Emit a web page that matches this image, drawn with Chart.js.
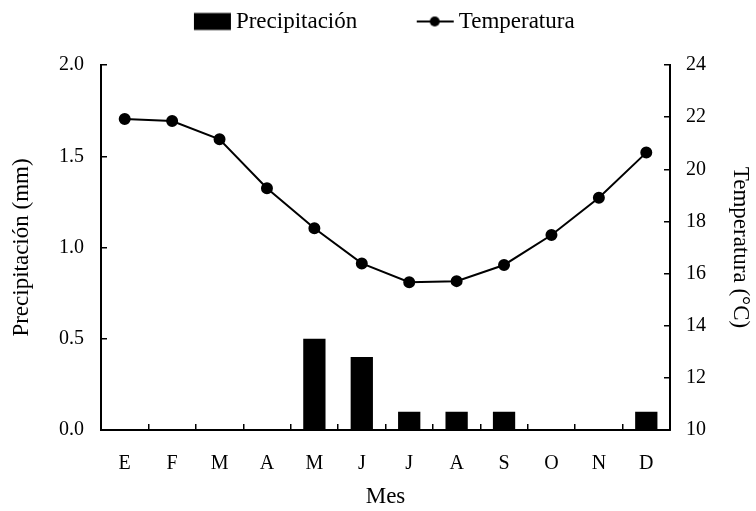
<!DOCTYPE html>
<html>
<head>
<meta charset="utf-8">
<script src="https://cdn.jsdelivr.net/npm/chart.js@4.4.0/dist/chart.umd.min.js"></script>
<style>
    html, body { margin: 0; padding: 0; background: #fff; }
    #wrap { width: 756px; height: 511px; }
</style>
</head>
<body>
<div id="wrap"><canvas id="climate-chart"></canvas></div>
<script>
// Monthly data
const months = ['E', 'F', 'M', 'A', 'M', 'J', 'J', 'A', 'S', 'O', 'N', 'D'];
const precipitation = [0, 0, 0, 0, 0.5, 0.4, 0.1, 0.1, 0.1, 0, 0, 0.1];
const temperature = [21.93, 21.85, 21.15, 19.27, 17.74, 16.39, 15.67, 15.71, 16.33, 17.48, 18.91, 20.64];

// Axis ranges: min, max, step
const precipRange = [0, 2.0, 0.5];
const tempRange = [10, 24, 2];

const serif = "'Liberation Serif', 'Times New Roman', serif";

// Small images used as legend symbols
function legendIcon(kind) {
    const c = document.createElement('canvas');
    c.width = 60;
    c.height = 20;
    const ctx = c.getContext('2d');
    ctx.fillStyle = '#000';
    ctx.strokeStyle = '#000';
    if (kind === 'bar') {
        ctx.fillRect(21, 1.5, 37, 17);
    } else {
        ctx.lineWidth = 2;
        ctx.beginPath();
        ctx.moveTo(21, 10);
        ctx.lineTo(58, 10);
        ctx.stroke();
        ctx.beginPath();
        ctx.arc(39, 10, 5, 0, Math.PI * 2);
        ctx.fill();
    }
    return c;
}
const icons = [legendIcon('bar'), legendIcon('line')];

// Give the legend a fixed height so the plot starts where it should
const legendHeight = {
    id: 'legendHeight',
    beforeInit(chart) {
        if (!chart.legend) return;
        const fit = chart.legend.fit;
        chart.legend.fit = function () {
            fit.bind(chart.legend)();
            this.height = 102;
        };
    }
};

const tickGrid = {
    display: true,
    drawOnChartArea: false,
    drawTicks: true,
    tickLength: -6,
    color: '#000',
    lineWidth: 1.5
};

new Chart(document.getElementById('climate-chart'), {
    type: 'bar',
    data: {
        labels: months,
        datasets: [{
            label: 'Precipitación',
            data: precipitation,
            backgroundColor: '#000',
            borderWidth: 0,
            barPercentage: 0.47,
            categoryPercentage: 1,
            yAxisID: 'y'
        }, {
            type: 'line',
            label: 'Temperatura',
            data: temperature,
            borderColor: '#000',
            borderWidth: 2,
            pointRadius: 5,
            pointBackgroundColor: '#000',
            pointBorderColor: '#000',
            tension: 0,
            yAxisID: 'y1'
        }]
    },
    options: {
        responsive: true,
        maintainAspectRatio: false,
        animation: false,
        layout: { padding: { top: -37 } },
        plugins: {
            tooltip: { enabled: false },
            legend: {
                position: 'top',
                labels: {
                    usePointStyle: true,
                    pointStyleWidth: 43,
                    padding: 47,
                    color: '#000',
                    font: { family: serif, size: 23 },
                    generateLabels: chart => chart.data.datasets.map((ds, i) => ({
                        text: ds.label,
                        pointStyle: icons[i],
                        fillStyle: '#000',
                        strokeStyle: '#000',
                        lineWidth: 0,
                        fontColor: '#000',
                        hidden: false,
                        datasetIndex: i
                    }))
                }
            }
        },
        scales: {
            x: {
                offset: true,
                grid: { ...tickGrid, offset: true },
                border: { display: true, color: '#000', width: 2 },
                ticks: { color: '#000', font: { family: serif, size: 20 }, padding: 28 },
                title: { display: true, text: 'Mes', color: '#000', font: { family: serif, size: 23 }, padding: { top: 0, bottom: 0 } },
                afterFit(scale) { scale.height = 81; }
            },
            y: {
                position: 'left',
                min: precipRange[0],
                max: precipRange[1],
                grid: tickGrid,
                border: { display: true, color: '#000', width: 2 },
                ticks: {
                    stepSize: precipRange[2],
                    color: '#000',
                    font: { family: serif, size: 20 },
                    padding: 23,
                    callback: v => v.toFixed(1)
                },
                title: { display: true, text: 'Precipitación (mm)', color: '#000', font: { family: serif, size: 23 }, padding: { top: 8, bottom: 0 } },
                afterFit(scale) { scale.width = 101; }
            },
            y1: {
                position: 'right',
                min: tempRange[0],
                max: tempRange[1],
                grid: tickGrid,
                border: { display: true, color: '#000', width: 2 },
                ticks: {
                    stepSize: tempRange[2],
                    color: '#000',
                    font: { family: serif, size: 20 },
                    padding: 22
                },
                title: { display: true, text: 'Temperatura (°C)', color: '#000', font: { family: serif, size: 23 }, padding: { top: 2, bottom: 0 } },
                afterFit(scale) { scale.width = 86; }
            }
        }
    },
    plugins: [legendHeight]
});
</script>
</body>
</html>
